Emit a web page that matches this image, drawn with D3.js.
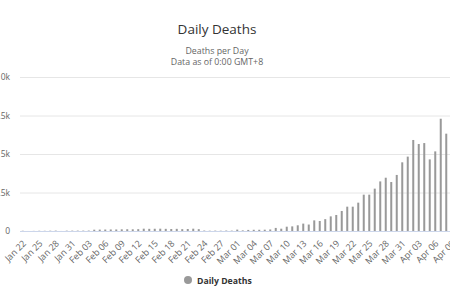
<!DOCTYPE html>
<html><head><meta charset="utf-8">
<script src="https://cdn.jsdelivr.net/npm/d3@7"></script>
<style>
html,body{margin:0;padding:0;background:#fff;}
svg{display:block;font-family:"Open Sans",sans-serif;}
</style></head>
<body>
<svg id="chart" width="450" height="300"></svg>
<script>
const categories = ["Jan 22","Jan 23","Jan 24","Jan 25","Jan 26","Jan 27","Jan 28","Jan 29","Jan 30","Jan 31",
"Feb 01","Feb 02","Feb 03","Feb 04","Feb 05","Feb 06","Feb 07","Feb 08","Feb 09","Feb 10","Feb 11","Feb 12","Feb 13","Feb 14","Feb 15","Feb 16","Feb 17","Feb 18","Feb 19","Feb 20","Feb 21","Feb 22","Feb 23","Feb 24","Feb 25","Feb 26","Feb 27","Feb 28","Feb 29",
"Mar 01","Mar 02","Mar 03","Mar 04","Mar 05","Mar 06","Mar 07","Mar 08","Mar 09","Mar 10","Mar 11","Mar 12","Mar 13","Mar 14","Mar 15","Mar 16","Mar 17","Mar 18","Mar 19","Mar 20","Mar 21","Mar 22","Mar 23","Mar 24","Mar 25","Mar 26","Mar 27","Mar 28","Mar 29","Mar 30","Mar 31",
"Apr 01","Apr 02","Apr 03","Apr 04","Apr 05","Apr 06","Apr 07","Apr 08","Apr 09"];
const dailyDeaths = [17,1,8,16,14,20,25,2,22,24,
26,25,28,85,90,95,100,100,110,115,110,120,150,140,145,150,140,130,140,120,130,150,120,30,20,25,20,30,25,
90,40,70,80,80,85,100,200,150,280,300,370,480,420,690,650,770,950,1040,1300,1580,1580,1840,2360,2360,2750,3220,3460,3180,3640,4460,
4830,5910,5650,5710,4650,5170,7290,6320,null];
const yTicks = [0,2500,5000,7500,10000];
const yTickLabels = ["0","2.5k","5k","7.5k","10k"];
const seriesName = "Daily Deaths";
const titleText = "Daily Deaths";
const subtitleLines = ["Deaths per Day","Data as of 0:00 GMT+8"];

const svg = d3.select("#chart");
const plotLeft = 20, plotTop = 77, plotBottom = 231, step = 5.5;
const x = d3.scaleBand().domain(categories).range([plotLeft, plotLeft + step*categories.length]).padding(0);
const y = d3.scaleLinear().domain([0,10000]).range([plotBottom, plotTop]);

// title
svg.append("text").attr("x",217).attr("y",34).attr("text-anchor","middle")
  .attr("font-size","13.5px").attr("fill","#333").text(titleText);
svg.selectAll("text.sub").data(subtitleLines).enter().append("text").attr("class","sub")
  .attr("x",217).attr("y",(d,i)=>54+i*11).attr("text-anchor","middle")
  .attr("font-size","8.8px").attr("fill","#666").text(d=>d);

// grid
const yAxis = d3.axisLeft(y).tickValues(yTicks).tickFormat((d,i)=>yTickLabels[i]).tickSize(-(450-plotLeft)).tickPadding(10);
const gy = svg.append("g").attr("transform",`translate(${plotLeft},0)`).call(yAxis);
gy.select(".domain").remove();
gy.selectAll(".tick line").attr("stroke","#e6e6e6");
gy.selectAll(".tick text").attr("font-size","8.5px").attr("fill","#666").attr("font-family","Open Sans, sans-serif");

// bars
svg.append("g").selectAll("rect").data(categories.map((c,i)=>({c,v:dailyDeaths[i]})).filter(d=>d.v!=null))
  .enter().append("rect")
  .attr("x",d=>x(d.c)+x.bandwidth()/2-1).attr("width",2)
  .attr("y",d=>y(d.v)).attr("height",d=>plotBottom-y(d.v))
  .attr("fill","#999");

// x axis
const xAxis = d3.axisBottom(x).tickValues(categories.filter((c,i)=>i%3===0)).tickSize(0).tickPadding(0);
const gx = svg.append("g").attr("transform",`translate(0,${plotBottom})`).call(xAxis);
gx.select(".domain").attr("stroke","#ccd6eb").attr("d",`M${plotLeft},0.5H450`);
gx.selectAll(".tick text").attr("font-size","9px").attr("fill","#666").attr("font-family","Open Sans, sans-serif")
  .attr("text-anchor","end").attr("dy",null).attr("y",0)
  .attr("transform","translate(4,13) rotate(-45)");

// legend
svg.append("circle").attr("cx",188).attr("cy",280).attr("r",4).attr("fill","#999");
svg.append("text").attr("x",197).attr("y",283.5).attr("font-size","8.7px").attr("font-weight","bold")
  .attr("fill","#333").text(seriesName);
</script>
</body></html>
